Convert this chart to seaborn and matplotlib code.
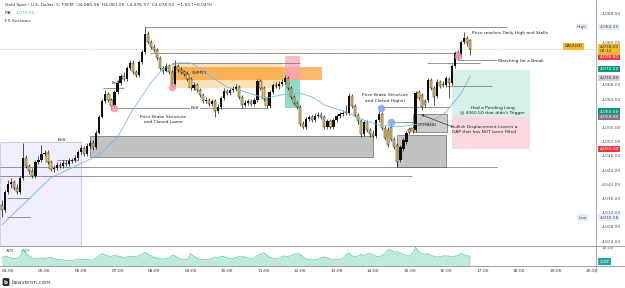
import numpy as np
import pandas as pd
import seaborn as sns
import matplotlib.pyplot as plt
from matplotlib.patches import Rectangle
from matplotlib.lines import Line2D
from matplotlib.transforms import blended_transform_factory

# =========================
# data (5 min candles from 03:50)
# =========================
opens = [
    4034.2, 4032.8, 4037.9, 4040.1, 4040.7, 4039.0, 4037.9, 4041.8, 4047.4, 4045.2,
    4043.8, 4042.4, 4046.3, 4046.9, 4048.5, 4048.8, 4046.3, 4044.3, 4044.6, 4045.5,
    4045.2, 4046.0, 4045.7, 4046.6, 4046.9, 4047.4, 4049.1, 4050.2, 4048.5, 4050.8,
    4051.6, 4050.5, 4054.5, 4059.0, 4063.5, 4065.5, 4063.8, 4062.1, 4066.0, 4068.6,
    4070.5, 4069.7, 4072.8, 4074.2, 4071.7, 4070.8, 4074.5, 4077.3, 4082.4, 4080.1,
    4078.7, 4077.9, 4075.6, 4072.8, 4071.9, 4073.3, 4071.7, 4068.3, 4073.3, 4072.2,
    4071.7, 4071.1, 4069.7, 4067.2, 4068.0, 4066.6, 4065.2, 4063.5, 4063.8, 4062.6,
    4063.5, 4060.7, 4061.8, 4064.3, 4066.3, 4065.7, 4066.6, 4066.9, 4067.4, 4064.6,
    4062.4, 4062.9, 4063.5, 4062.6, 4063.8, 4069.1, 4067.2, 4064.1, 4062.1, 4066.0,
    4068.0, 4067.7, 4068.3, 4068.8, 4070.0, 4067.2, 4064.6, 4062.9, 4061.8, 4057.0,
    4056.2, 4058.4, 4059.0, 4058.1, 4059.3, 4059.5, 4059.0, 4056.2, 4057.9, 4056.2,
    4058.1, 4059.3, 4059.8, 4060.4, 4060.1, 4064.9, 4062.1, 4059.5, 4057.9, 4054.2,
    4057.6, 4055.3, 4054.2, 4053.6, 4058.1, 4059.8, 4055.9, 4055.3, 4056.2, 4052.8,
    4051.1, 4046.9, 4049.9, 4051.9, 4055.6, 4055.9, 4055.3, 4066.0, 4065.2, 4063.5,
    4063.8, 4069.4, 4067.2, 4064.9, 4068.8, 4068.3, 4068.0, 4069.7, 4068.6, 4073.3,
    4077.3, 4076.2, 4080.1, 4081.2, 4080.58]
highs = [
    4035.6, 4038.4, 4041.2, 4041.8, 4041.2, 4040.1, 4042.4, 4051.6, 4048.3, 4045.7,
    4044.6, 4046.9, 4048.0, 4051.1, 4049.7, 4049.7, 4046.9, 4045.5, 4046.3, 4046.3,
    4046.9, 4046.9, 4047.4, 4047.4, 4048.3, 4049.7, 4051.1, 4050.8, 4051.6, 4052.5,
    4052.5, 4055.3, 4059.5, 4064.1, 4066.6, 4066.0, 4064.3, 4066.6, 4069.4, 4071.1,
    4071.7, 4073.3, 4075.0, 4075.0, 4072.2, 4075.0, 4077.9, 4084.35, 4083.2, 4080.7,
    4079.5, 4078.4, 4076.2, 4073.3, 4074.2, 4073.9, 4072.2, 4075.0, 4073.9, 4073.1,
    4072.2, 4071.9, 4070.2, 4068.8, 4068.6, 4067.2, 4065.7, 4064.6, 4064.3, 4064.1,
    4064.1, 4062.6, 4064.9, 4067.2, 4066.9, 4067.2, 4067.7, 4068.3, 4068.0, 4065.2,
    4063.8, 4064.1, 4064.1, 4064.3, 4069.7, 4069.7, 4067.7, 4064.6, 4066.6, 4068.6,
    4068.8, 4069.1, 4069.7, 4070.8, 4070.5, 4067.7, 4065.2, 4063.5, 4062.4, 4057.9,
    4059.0, 4059.5, 4059.5, 4060.1, 4060.4, 4060.4, 4059.5, 4058.4, 4058.4, 4058.7,
    4059.8, 4060.4, 4061.0, 4062.4, 4065.7, 4065.5, 4062.6, 4060.1, 4058.4, 4058.1,
    4058.1, 4055.9, 4055.3, 4058.4, 4061.0, 4060.4, 4056.4, 4056.2, 4057.3, 4053.3,
    4051.6, 4051.1, 4053.1, 4055.0, 4056.2, 4056.4, 4066.3, 4066.6, 4065.7, 4064.1,
    4070.0, 4070.0, 4067.7, 4069.7, 4069.4, 4069.1, 4070.5, 4070.2, 4073.9, 4077.6,
    4077.9, 4080.7, 4082.9, 4081.8, 4081.05]
lows = [
    4030.8, 4032.2, 4037.3, 4039.0, 4038.4, 4037.3, 4037.3, 4041.2, 4044.6, 4042.9,
    4041.8, 4041.8, 4045.7, 4046.3, 4048.0, 4045.7, 4043.8, 4043.5, 4044.1, 4044.6,
    4044.6, 4045.2, 4045.2, 4046.0, 4046.3, 4046.9, 4048.5, 4048.0, 4048.0, 4050.2,
    4049.7, 4049.9, 4054.2, 4058.7, 4062.9, 4063.2, 4061.0, 4061.5, 4065.5, 4068.0,
    4069.1, 4069.1, 4072.2, 4071.1, 4070.2, 4070.2, 4073.9, 4076.7, 4079.5, 4078.1,
    4077.3, 4075.0, 4072.2, 4071.1, 4071.7, 4071.1, 4067.2, 4067.7, 4071.7, 4071.1,
    4070.5, 4069.1, 4066.6, 4066.6, 4066.0, 4064.6, 4062.9, 4062.9, 4062.1, 4062.1,
    4059.0, 4060.1, 4061.2, 4063.8, 4065.2, 4065.2, 4066.0, 4066.3, 4064.1, 4061.5,
    4061.8, 4062.4, 4062.1, 4062.1, 4063.2, 4066.6, 4063.5, 4061.5, 4061.5, 4065.5,
    4067.2, 4066.9, 4067.7, 4068.3, 4066.6, 4064.1, 4062.4, 4061.2, 4056.4, 4055.6,
    4055.6, 4057.9, 4057.6, 4057.6, 4058.7, 4058.4, 4055.6, 4055.6, 4055.6, 4055.6,
    4057.6, 4058.7, 4059.3, 4059.5, 4059.5, 4061.5, 4059.0, 4057.0, 4053.3, 4053.6,
    4054.7, 4053.3, 4053.1, 4053.1, 4057.6, 4055.3, 4052.5, 4050.5, 4052.2, 4049.9,
    4044.9, 4046.3, 4049.4, 4051.4, 4054.2, 4054.5, 4054.7, 4063.8, 4061.0, 4061.8,
    4063.2, 4066.6, 4062.4, 4064.3, 4067.2, 4067.4, 4067.4, 4064.3, 4068.0, 4072.8,
    4075.0, 4075.6, 4079.5, 4079.0, 4076.57]
closes = [
    4032.8, 4037.9, 4040.1, 4040.7, 4039.0, 4037.9, 4041.8, 4047.4, 4045.2, 4043.8,
    4042.4, 4046.3, 4046.9, 4048.5, 4048.8, 4046.3, 4044.3, 4044.6, 4045.5, 4045.2,
    4046.0, 4045.7, 4046.6, 4046.9, 4047.4, 4049.1, 4050.2, 4048.5, 4050.8, 4051.6,
    4050.5, 4054.5, 4059.0, 4063.5, 4065.5, 4063.8, 4062.1, 4066.0, 4068.6, 4070.5,
    4069.7, 4072.8, 4074.2, 4071.7, 4070.8, 4074.5, 4077.3, 4082.4, 4080.1, 4078.7,
    4077.9, 4075.6, 4072.8, 4071.9, 4073.3, 4071.7, 4068.3, 4073.3, 4072.2, 4071.7,
    4071.1, 4069.7, 4067.2, 4068.0, 4066.6, 4065.2, 4063.5, 4063.8, 4062.6, 4063.5,
    4060.7, 4061.8, 4064.3, 4066.3, 4065.7, 4066.6, 4066.9, 4067.4, 4064.6, 4062.4,
    4062.9, 4063.5, 4062.6, 4063.8, 4069.1, 4067.2, 4064.1, 4062.1, 4066.0, 4068.0,
    4067.7, 4068.3, 4068.8, 4070.0, 4067.2, 4064.6, 4062.9, 4061.8, 4057.0, 4056.2,
    4058.4, 4059.0, 4058.1, 4059.3, 4059.5, 4059.0, 4056.2, 4057.9, 4056.2, 4058.1,
    4059.3, 4059.8, 4060.1, 4060.1, 4064.9, 4062.1, 4059.5, 4057.9, 4054.2, 4057.6,
    4055.3, 4054.2, 4053.6, 4058.1, 4059.8, 4055.9, 4053.1, 4051.1, 4052.8, 4050.5,
    4046.3, 4050.5, 4052.5, 4054.5, 4054.7, 4055.0, 4065.7, 4064.3, 4061.8, 4062.4,
    4069.4, 4067.2, 4064.6, 4068.8, 4067.7, 4068.0, 4070.0, 4068.6, 4073.3, 4077.0,
    4075.9, 4080.1, 4081.2, 4079.8, 4078.03]
atr = [
    4.5, 5.5, 5.0, 4.5, 4.0, 4.2, 5.5, 9.3, 7.0, 5.5,
    4.5, 4.2, 4.0, 4.6, 4.2, 4.5, 4.8, 4.2, 3.8, 3.5,
    3.4, 3.2, 3.0, 3.0, 3.4, 3.8, 3.6, 3.5, 3.7, 3.4,
    3.3, 4.5, 6.0, 6.8, 6.2, 5.5, 5.4, 5.8, 5.5, 5.2,
    4.8, 5.0, 5.3, 5.4, 5.2, 5.8, 6.5, 7.6, 6.5, 5.6,
    4.8, 4.4, 4.0, 3.8, 4.0, 4.8, 6.0, 5.5, 4.4, 3.8,
    3.6, 3.8, 7.0, 5.5, 4.5, 3.8, 3.6, 3.5, 3.8, 4.0,
    5.0, 4.6, 5.5, 5.2, 4.5, 4.0, 4.2, 4.6, 5.2, 5.5,
    4.8, 4.4, 4.2, 4.4, 6.0, 6.5, 7.4, 6.2, 5.0, 4.4,
    4.0, 4.4, 5.2, 5.6, 5.2, 5.8, 6.4, 7.0, 6.6, 5.0,
    4.0, 3.6, 3.4, 3.5, 3.8, 4.6, 5.0, 4.4, 3.8, 3.6,
    3.5, 3.6, 4.2, 6.0, 7.4, 5.8, 5.2, 5.6, 6.5, 5.8,
    6.6, 7.0, 6.4, 5.4, 5.2, 6.0, 7.0, 9.2, 8.6, 7.8,
    8.0, 7.0, 6.4, 6.0, 5.5, 7.0, 10.4, 8.0, 7.0, 6.6,
    6.8, 6.0, 5.4, 5.0, 5.2, 5.6, 5.6, 5.5, 5.0, 5.5,
    5.8, 7.0, 6.2, 5.8, 5.2]

# moving average, read at a few points (minutes since midnight)
ma_times = [230, 310, 355, 390, 420, 445, 475, 490, 500, 520, 540, 555, 575, 600, 620,
            645, 665, 690, 720, 740, 760, 795, 825, 850, 880, 905, 935, 960, 985, 1000]
ma_values = [4028.6, 4041.8, 4045.5, 4048.3, 4053.3, 4061.0, 4068.6, 4071.7, 4073.1, 4074.2,
             4074.2, 4072.8, 4070.2, 4067.4, 4066.6, 4065.2, 4064.3, 4065.2, 4065.7, 4064.6,
             4062.4, 4060.4, 4058.1, 4056.7, 4056.2, 4056.7, 4057.6, 4060.4, 4065.7, 4070.55]

hour_ticks = list(range(240, 1201, 60))
hour_labels = [f"{h:02d}:00" for h in range(4, 21)]
price_ticks = [4024, 4028, 4032, 4036, 4040, 4044, 4048, 4052, 4056, 4064, 4068, 4080, 4088]

df = pd.DataFrame({"time": 230 + 5 * np.arange(len(closes)), "open": opens,
                   "high": highs, "low": lows, "close": closes, "atr": atr})

sns.set_theme(style="white")
plt.rcParams["font.family"] = ["DejaVu Sans"]
FS = 3.2
XMIN, XMAX = 226.8, 1206.6

fig = plt.figure(figsize=(6.25, 2.88), dpi=100)
W, H = 625, 288
ax = fig.add_axes([0, 1 - 246 / H, 596 / W, 246 / H])
ax2 = fig.add_axes([0, 1 - 266 / H, 596 / W, 20 / H])

for a in (ax, ax2):
    a.set_xlim(XMIN, XMAX)
    for s in a.spines.values():
        s.set_visible(False)
    a.grid(False)
ax.set_ylim(4022.64, 4091.94)
ax2.set_ylim(0, 11.1)

# sessions box
ax.add_patch(Rectangle((XMIN, 4010), 360 - XMIN, 4051.9 - 4010, fc="#f0edfc", ec="#c3bbef", lw=0.5, zorder=0))

# zones
def box(t0, t1, p0, p1, fc, ec="none", alpha=1.0, lw=0.5, z=1):
    ax.add_patch(Rectangle((t0, p0), t1 - t0, p1 - p0, fc=fc, ec=ec, alpha=alpha, lw=lw, zorder=z))

box(375, 840, 4047.7, 4053.6, "#b8b8b8", "#555555", 0.85)
box(880, 960, 4044.9, 4053.9, "#b8b8b8", "#555555", 0.85)
box(905, 962, 4054.7, 4059.8, "#c4c4c4", "#555555", 0.85)
box(510, 690, 4067.2, 4074.2, "#fcdcae", alpha=0.9)
box(510, 756, 4069.4, 4073.1, "#f9a23a", alpha=0.75)
box(695, 720, 4069.4, 4076.2, "#f5a3b5", alpha=0.75)
box(695, 720, 4061.5, 4069.4, "#6fcdb8", alpha=0.75)
box(970, 1098, 4059.0, 4072.2, "#d3efe8", alpha=0.95)
box(970, 1098, 4049.9, 4059.0, "#fbd6dc", alpha=0.95)

# drawn lines
hlines = [
    (4084.35, 465, 1060), (4077.0, 473, 975), (4075.0, 980, 1044), (4074.2, 510, 720),
    (4074.2, 929, 1016), (4067.8, 960, 1036), (4061.8, 850, 966), (4057.6, 870, 905),
    (4044.9, XMIN, 1044), (4042.3, XMIN, 904), (4036.1, 238, 276), (4030.8, 238, 276),
    (4046.9, 320, 355), (4067.2, 396, 430), (4061.5, 416, 667),
]
for p, t0, t1 in hlines:
    ax.hlines(p, t0, t1, color="#6b6b6b", lw=0.5, zorder=2)

# candles
up = df["close"] >= df["open"]
ax.vlines(df["time"], df["low"], df["high"], color="#111111", lw=0.5, zorder=3)
body = (df["close"] - df["open"]).abs().clip(lower=0.15)
bottom = df[["open", "close"]].min(axis=1)
ax.bar(df["time"][up], body[up], bottom=bottom[up], width=3.7, color="#0d0d0d", lw=0, zorder=4)
ax.bar(df["time"][~up], body[~up], bottom=bottom[~up], width=3.7, color="#efc65f",
       edgecolor="#222222", lw=0.35, zorder=4)

# moving average
sns.lineplot(x=ma_times, y=ma_values, ax=ax, color="#6fb5e3", lw=0.55, zorder=5, sort=False)

# markers
ax.plot([415, 510, 980], [4061.5, 4067.4, 4076.3], "o", ms=5.5, color="#f48fb1", alpha=0.8, mec="none", zorder=6)
ax.plot([853, 870], [4061.5, 4057.6], "o", ms=5.5, color="#7ea9f2", alpha=0.85, mec="none", zorder=6)

# current price dotted line
ax.axhline(4078.03, color="#f5a623", lw=0.5, ls=(0, (1, 1.5)), zorder=2)

# texts
tk = dict(fontsize=FS, color="#222222", zorder=7)
ax.text(555, 4071.4, "SUPPLY", ha="center", va="center", **tk)
ax.text(329, 4052.6, "BoS", ha="center", va="center", **tk)
ax.text(418, 4068.6, "BoS", ha="center", va="center", **tk)
ax.text(547, 4061.5, "BoS", ha="center", va="center",
        bbox=dict(boxstyle="square,pad=0.15", fc="white", ec="none"), **tk)
ax.text(495, 4058.3, "Price Brake Structure\nand Closed Lower", ha="center", va="center",
        linespacing=1.5, **tk)
ax.text(860, 4064.3, "Price Brake Structure\nand Closed Higher", ha="center", va="center",
        linespacing=1.5, **tk)
ax.text(930, 4056.6, "DEMAND", ha="center", va="center", **tk)
ax.text(1037, 4060.8, "Had a Pending Long\n@ 4060.50 that didn't Trigger", ha="center",
        va="center", linespacing=1.4, **tk)
ax.text(1022, 4055.5, "Bullish Displacement Leaves a\nGAP that has NOT been Filled", ha="center",
        va="center", linespacing=1.4, **tk)
ax.text(1003, 4082.6, "Price reaches Daily High and Stalls", ha="left", va="center", **tk)
ax.text(1046, 4074.8, "Watching for a Break", ha="left", va="center", **tk)
ax.annotate("", xy=(915, 4059.9), xytext=(975, 4055.9),
            arrowprops=dict(arrowstyle="-|>", lw=0.5, color="#333333", mutation_scale=3), zorder=7)

# right price axis
ax.yaxis.tick_right()
ax.set_yticks(price_ticks)
ax.set_yticklabels([f"{v:,.2f}" for v in price_ticks])
ax.tick_params(axis="y", labelsize=FS, colors="#555555", length=0, pad=4)
ax.set_xticks([])
ax.set_ylabel("")

tr = blended_transform_factory(ax.transAxes, ax.transData)
tags = [
    (4076.0, "4,076.00", "#f23645", "white"),
    (4072.5, "4,072.50", "#089981", "white"),
    (4070.0, "4,070.00", "#d1d4dc", "#333333"),
    (4060.5, "4,060.50", "#089981", "white"),
    (4059.0, "4,059.00", "#787b86", "white"),
    (4050.0, "4,050.00", "#f23645", "white"),
    (4084.35, "4,084.35", "#e3eefc", "#555555"),
    (4030.58, "4,030.58", "#e3eefc", "#555555"),
    (4078.03, "4,078.03\n03:12", "#f5b82e", "#333333"),
]
for p, s, fc, c in tags:
    ax.text(1.006, p, s, transform=tr, fontsize=FS, color=c, ha="left", va="center",
            linespacing=1.0, bbox=dict(boxstyle="square,pad=0.3", fc=fc, ec="none"), zorder=8, clip_on=False)
for p, s in [(4084.35, "High"), (4030.58, "Low")]:
    ax.text(0.985, p, s, transform=tr, fontsize=FS, color="#555555", ha="right", va="center",
            bbox=dict(boxstyle="square,pad=0.3", fc="#e3eefc", ec="none"), zorder=8)
ax.text(0.978, 4078.9, "XAUUSD", transform=tr, fontsize=FS, color="#333333", ha="right", va="center",
        bbox=dict(boxstyle="square,pad=0.3", fc="#f5b82e", ec="none"), zorder=8)

# ATR pane
sns.lineplot(data=df, x="time", y="atr", ax=ax2, color="#5cc8ad", lw=0.5)
ax2.fill_between(df["time"], 0, df["atr"], color="#bfe9de", lw=0)
ax2.yaxis.tick_right()
ax2.set_yticks([10])
ax2.set_yticklabels(["10.00"])
ax2.tick_params(axis="y", labelsize=FS, colors="#555555", length=0, pad=4)
ax2.set_xticks(hour_ticks)
ax2.set_xticklabels(hour_labels)
ax2.tick_params(axis="x", labelsize=FS, colors="#333333", length=0, pad=2.5)
ax2.set_xlabel("")
ax2.set_ylabel("")
tr2 = blended_transform_factory(ax2.transAxes, ax2.transData)
ax2.text(1.006, 2.49, "2.49", transform=tr2, fontsize=FS, color="white", ha="left", va="center",
         bbox=dict(boxstyle="square,pad=0.3", fc="#26a69a", ec="none"), clip_on=False)
ax2.text(0.01, 8.5, "ATR", transform=tr2, fontsize=FS, color="#555555", va="center")
ax2.text(0.035, 8.5, "2.49", transform=tr2, fontsize=FS, color="#26a69a", va="center")

# frame lines
for yy in (246, 266):
    fig.add_artist(Line2D([0, 1], [1 - yy / H] * 2, transform=fig.transFigure, color="#a0a0a0", lw=0.7))
fig.add_artist(Line2D([596 / W] * 2, [1 - 272 / H, 1], transform=fig.transFigure, color="#a0a0a0", lw=0.6))

# header
fig.text(5 / W, 1 - 5 / H, "Gold Spot / U.S. Dollar, 5, FXCM  O4,080.58  H4,081.05  L4,076.57  C4,078.03  \u22121.55 (\u22120.04%)",
         fontsize=FS, color="#333333", va="center")
fig.text(5 / W, 1 - 13 / H, "MA", fontsize=FS, color="#333333", va="center")
fig.text(16 / W, 1 - 13 / H, "4,070.55", fontsize=FS, color="#6fb5e3", va="center")
fig.text(5 / W, 1 - 21 / H, "FX Sessions", fontsize=FS, color="#333333", va="center")

# watermark
fig.text(6 / W, 1 - 282 / H, "b", fontsize=4, color="white", weight="bold", ha="center", va="center",
         bbox=dict(boxstyle="round,pad=0.25", fc="#222222", ec="none"))
fig.text(12 / W, 1 - 282 / H, "beaveron.com", fontsize=4, color="#444444", va="center")

fig.savefig("out.png", dpi=100)
plt.close(fig)
